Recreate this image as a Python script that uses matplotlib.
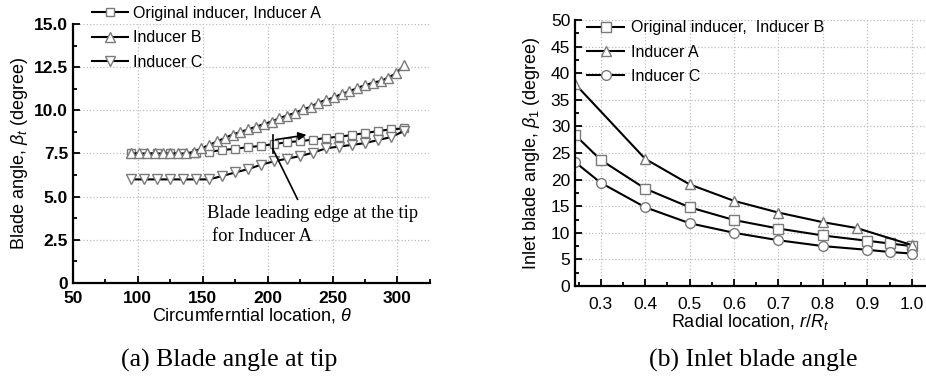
import matplotlib.pyplot as plt
from matplotlib.ticker import MultipleLocator, FormatStrFormatter, FuncFormatter

plt.rcParams['font.family'] = ['Liberation Sans', 'DejaVu Sans']
plt.rcParams['mathtext.fontset'] = 'custom'
plt.rcParams['mathtext.rm'] = 'Liberation Sans'
plt.rcParams['mathtext.it'] = 'Liberation Sans:italic'

# (a) blade angle at tip
theta_b = [95, 101, 107, 113, 119, 125, 131, 137, 143, 149, 155, 161, 167, 173, 179, 185, 191, 197,
           203, 209, 215, 221, 227, 233, 239, 245, 251, 257, 263, 269, 275, 281, 287, 293, 299, 305]
beta_b = [7.5, 7.5, 7.5, 7.5, 7.5, 7.5, 7.5, 7.5, 7.6, 7.8, 8.0, 8.2, 8.4, 8.6, 8.75, 8.9, 9.05, 9.2,
          9.35, 9.55, 9.7, 9.85, 10.05, 10.2, 10.45, 10.6, 10.75, 10.95, 11.1, 11.3, 11.45, 11.6, 11.7,
          11.9, 12.15, 12.6]
theta_ac = [95, 105, 115, 125, 135, 145, 155, 165, 175, 185, 195, 205, 215, 225, 235, 245, 255, 265,
            275, 285, 295, 305]
beta_a = [7.5, 7.5, 7.5, 7.5, 7.5, 7.5, 7.6, 7.7, 7.77, 7.87, 7.94, 8.05, 8.15, 8.22, 8.3, 8.4, 8.47,
          8.57, 8.68, 8.8, 8.9, 8.95]
beta_c = [6.0, 6.0, 6.0, 6.0, 6.0, 6.0, 6.0, 6.2, 6.4, 6.6, 6.85, 7.05, 7.2, 7.35, 7.55, 7.8, 7.9,
          8.0, 8.1, 8.28, 8.45, 8.8]

# (b) inlet blade angle
r_sq = [0.242, 0.3, 0.4, 0.5, 0.6, 0.7, 0.8, 0.9, 0.95, 1.0]
beta1_orig = [28.4, 23.7, 18.3, 14.8, 12.4, 10.8, 9.5, 8.5, 8.0, 7.5]
r_tri = [0.242, 0.4, 0.5, 0.6, 0.7, 0.8, 0.876, 1.0]
beta1_a = [38.0, 23.9, 19.1, 16.0, 13.8, 12.0, 10.9, 7.7]
beta1_c = [23.3, 19.4, 14.8, 11.8, 10.0, 8.6, 7.5, 6.8, 6.4, 6.1]

mk = dict(color='black', lw=1.5, mfc='white', mec='#7a7a7a', mew=1.0)
grid = dict(color='#bdbdbd', linestyle=':', linewidth=0.9)

fig = plt.figure(figsize=(9.26, 3.79), dpi=100)

ax1 = fig.add_axes([0.0788, 0.2533, 0.3855, 0.6834])
l1, = ax1.plot(theta_ac, beta_a, marker='s', ms=6, label='Original inducer, Inducer A', **mk)
l2, = ax1.plot(theta_b, beta_b, marker='^', ms=7, label='Inducer B', **mk)
l3, = ax1.plot(theta_ac, beta_c, marker='v', ms=7, label='Inducer C', **mk)
ax1.set_xlim(50, 325)
ax1.set_ylim(0, 15)
ax1.xaxis.set_major_locator(MultipleLocator(50))
ax1.xaxis.set_minor_locator(MultipleLocator(25))
ax1.yaxis.set_major_locator(MultipleLocator(2.5))
ax1.yaxis.set_minor_locator(MultipleLocator(1.25))
ax1.yaxis.set_major_formatter(FuncFormatter(lambda v, p: '0' if v == 0 else f'{v:.1f}'))
ax1.grid(True, **grid)
ax1.tick_params(labelsize=12.5)
for lab in ax1.get_xticklabels() + ax1.get_yticklabels():
    lab.set_fontweight('bold')
ax1.tick_params(axis='x', pad=6)
ax1.set_xlabel(r'Circumferntial location, $\theta$', fontsize=13, labelpad=0)
ax1.set_ylabel(r'Blade angle, $\beta_t$ (degree)', fontsize=13, labelpad=3)
ax1.legend(handles=[l1, l2, l3], loc='upper left', bbox_to_anchor=(0.087, 1.014),
           bbox_transform=fig.transFigure, frameon=False, fontsize=11.5, handlelength=2.3,
           handletextpad=0.3, labelspacing=0.6, borderpad=0.2)

# annotation
ax1.plot([204, 204], [7.55, 8.6], color='black', lw=1.2)
ax1.annotate('', xy=(232, 8.6), xytext=(204, 8.28),
             arrowprops=dict(arrowstyle='-|>', color='black', lw=1.2, mutation_scale=12))
ax1.plot([204, 223], [7.75, 4.85], color='black', lw=1.2)
ax1.text(153, 4.05, 'Blade leading edge at the tip', family='Liberation Serif', fontsize=13.3,
         va='center', ha='left')
ax1.text(157, 2.67, 'for Inducer A', family='Liberation Serif', fontsize=13.3,
         va='center', ha='left')

ax2 = fig.add_axes([0.621, 0.2454, 0.378, 0.7016])
m1, = ax2.plot(r_sq, beta1_orig, marker='s', ms=6.5, label='Original inducer,  Inducer B', **mk)
m2, = ax2.plot(r_tri, beta1_a, marker='^', ms=7.5, label='Inducer A', **mk)
m3, = ax2.plot(r_sq, beta1_c, marker='o', ms=7, label='Inducer C', **mk)
ax2.set_xlim(0.242, 1.03)
ax2.set_ylim(0, 50)
ax2.xaxis.set_major_locator(MultipleLocator(0.1))
ax2.xaxis.set_minor_locator(MultipleLocator(0.05))
ax2.xaxis.set_major_formatter(FormatStrFormatter('%.1f'))
ax2.yaxis.set_major_locator(MultipleLocator(5))
ax2.yaxis.set_minor_locator(MultipleLocator(2.5))
ax2.grid(True, **grid)
ax2.tick_params(labelsize=12.5)
ax2.tick_params(axis='x', pad=8)
ax2.set_xlabel(r'Radial location, $r/R_t$', fontsize=13, labelpad=0)
ax2.set_ylabel(r'Inlet blade angle, $\beta_1$ (degree)', fontsize=13, labelpad=6)
ax2.legend(handles=[m1, m2, m3], loc='upper left', bbox_to_anchor=(0.622, 0.976),
           bbox_transform=fig.transFigure, frameon=False, fontsize=11.5, handlelength=2.3,
           handletextpad=0.45, labelspacing=0.58, borderpad=0.2)

for ax in (ax1, ax2):
    for s in ('top', 'right'):
        ax.spines[s].set_visible(False)
    for s in ('left', 'bottom'):
        ax.spines[s].set_linewidth(1.6)
    ax.tick_params(which='both', direction='in', width=1.3)
    ax.tick_params(which='major', length=5)
    ax.tick_params(which='minor', length=3)

fig.text(0.248, 0.048, '(a) Blade angle at tip', family='Liberation Serif', fontsize=18.5,
         ha='center', va='center')
fig.text(0.813, 0.048, '(b) Inlet blade angle', family='Liberation Serif', fontsize=18.5,
         ha='center', va='center')

fig.savefig('out.png', dpi=100)
